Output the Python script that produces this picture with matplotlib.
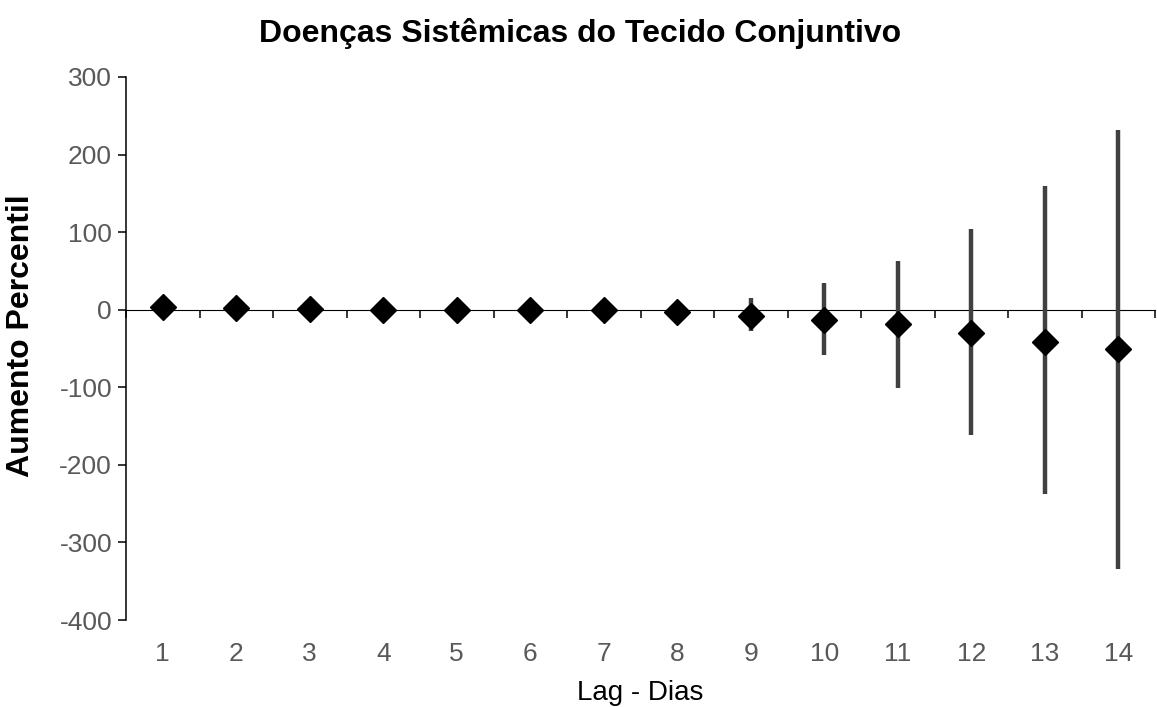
import matplotlib.pyplot as plt
import numpy as np

# data
lags = np.arange(1, 15)
pct = np.array([4, 2, 1, 0, 0, -1, -1, -3, -8, -13, -19, -30, -41, -51])
ci_low = np.array([1, 0, -1, -2, -3, -4, -6, -9, -28, -58, -101, -161, -238, -334])
ci_high = np.array([7, 4, 3, 2, 3, 3, 4, 4, 15, 34, 63, 104, 159, 232])

plt.rcParams['font.family'] = ['Liberation Sans', 'DejaVu Sans']
plt.rcParams['axes.unicode_minus'] = False

fig = plt.figure(figsize=(11.57, 7.07), dpi=100)
ax = fig.add_axes([126/1157, 1-620/707, 1029/1157, 543/707])

# error bars then diamonds
ax.errorbar(lags, pct, yerr=[pct-ci_low, ci_high-pct], fmt='none',
            ecolor='#404040', elinewidth=3.2, capsize=0, zorder=2)
ax.plot(lags, pct, linestyle='none', marker='D', markersize=13.7,
        color='black', zorder=3)

ax.set_xlim(0.5, 14.5)
ax.set_ylim(-400, 300)
ax.set_yticks(np.arange(-400, 301, 100))

# spines
for s in ['top', 'right', 'bottom']:
    ax.spines[s].set_visible(False)
ax.spines['left'].set_linewidth(1.1)

ax.tick_params(axis='y', direction='out', length=6, width=1.1, colors='black',
               labelcolor='#595959', labelsize=19, pad=4)
ax.set_xticks(lags)
ax.tick_params(axis='x', length=0, labelcolor='#595959', labelsize=19, pad=16)

# horizontal axis line at zero with ticks between categories
sec = ax.secondary_xaxis(4/7)
sec.spines['bottom'].set_linewidth(1.1)
sec.set_xticks(np.arange(0.5, 15, 1))
sec.xaxis.set_ticks_position('bottom')
sec.tick_params(axis='x', direction='out', length=6, width=1.1, labelbottom=False)

ax.set_title('Doenças Sistêmicas do Tecido Conjuntivo', fontsize=23,
             fontweight='bold', pad=25, x=(580-126)/1029)
ax.set_ylabel('Aumento Percentil', fontsize=23, fontweight='bold')
ax.yaxis.set_label_coords(-0.087, (620-336)/543)
ax.set_xlabel('Lag - Dias', fontsize=20, labelpad=10)

plt.savefig('out.png', dpi=100)
